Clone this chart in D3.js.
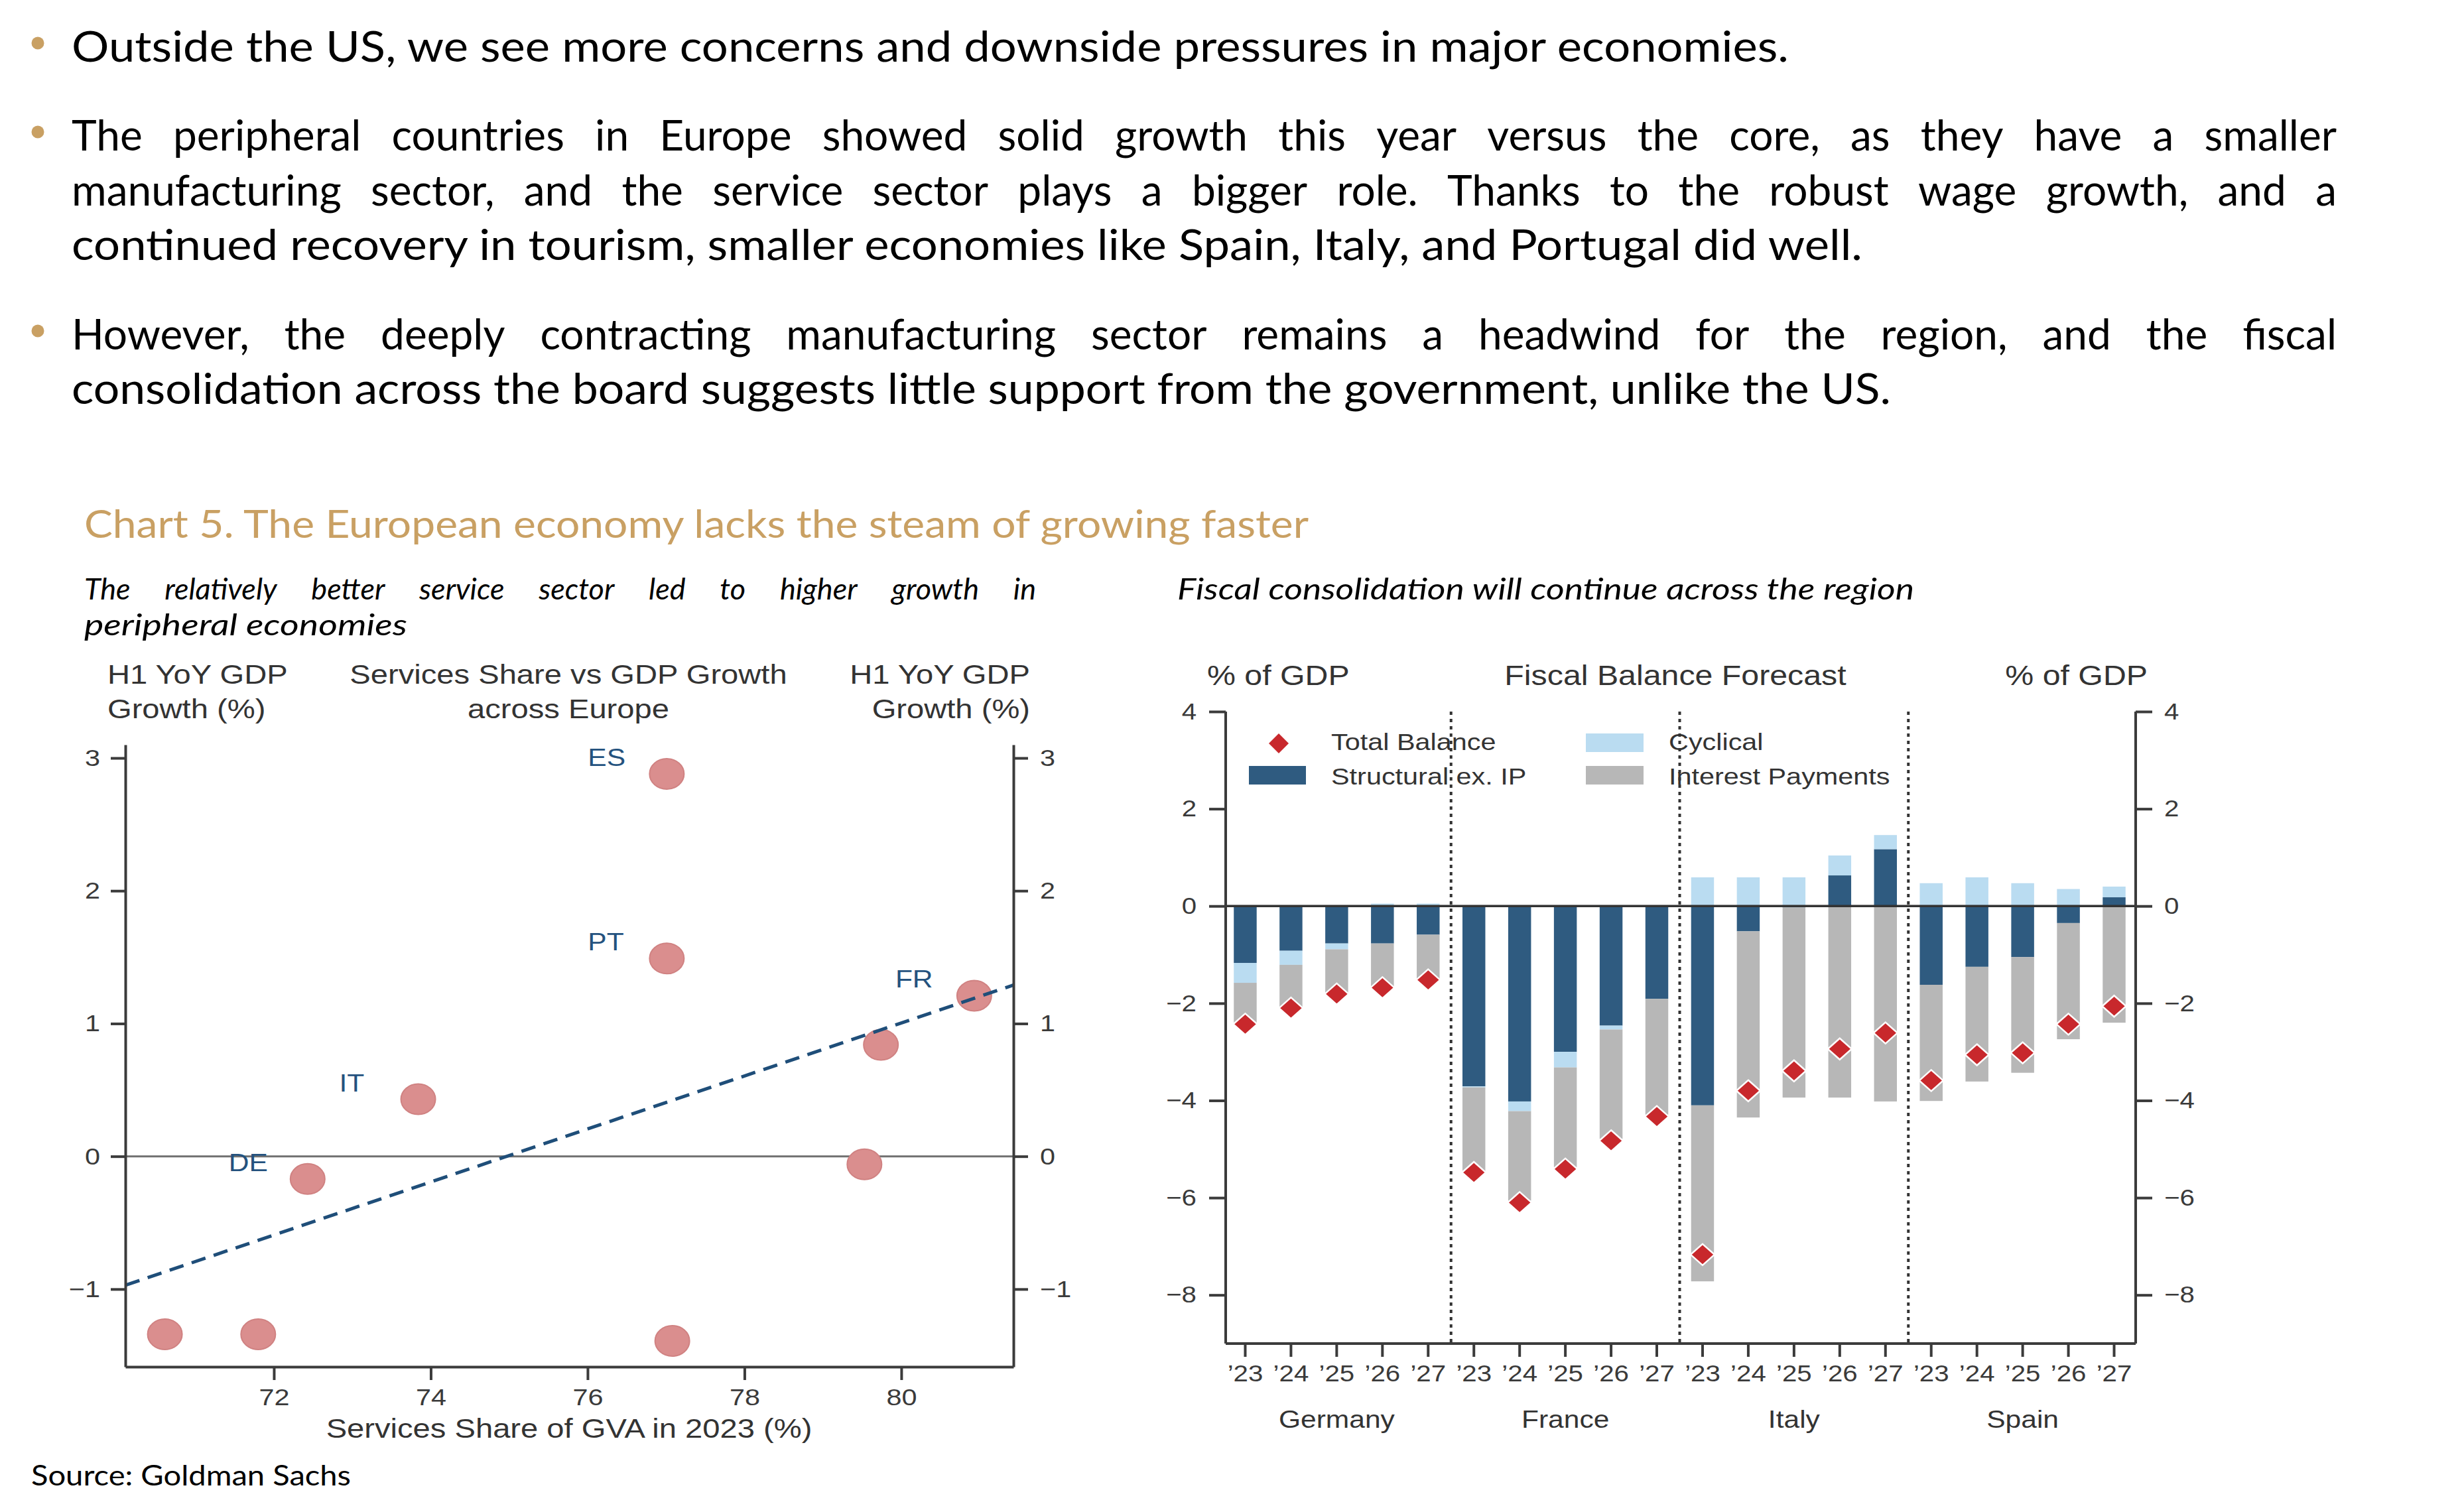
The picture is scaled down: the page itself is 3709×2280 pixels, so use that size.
<!DOCTYPE html>
<html><head><meta charset="utf-8">
<script src="https://cdn.jsdelivr.net/npm/d3@7"></script>
<style>html,body{margin:0;padding:0;background:#fff;} svg{display:block}</style>
</head><body>
<script>
// ---------------- DATA ----------------
const bulletParagraphs = [
  ["Outside the US, we see more concerns and downside pressures in major economies."],
  ["The peripheral countries in Europe showed solid growth this year versus the core, as they have a smaller",
   "manufacturing sector, and the service sector plays a bigger role. Thanks to the robust wage growth, and a",
   "continued recovery in tourism, smaller economies like Spain, Italy, and Portugal did well."],
  ["However, the deeply contracting manufacturing sector remains a headwind for the region, and the fiscal",
   "consolidation across the board suggests little support from the government, unlike the US."]
];
const chartTitle = "Chart 5. The European economy lacks the steam of growing faster";
const leftSubtitle = ["The relatively better service sector led to higher growth in", "peripheral economies"];
const rightSubtitle = "Fiscal consolidation will continue across the region";
const sourceText = "Source: Goldman Sachs";

// Left chart: services share vs GDP growth
const leftHeaderL = ["H1 YoY GDP", "Growth (%)"];
const leftHeaderC = ["Services Share vs GDP Growth", "across Europe"];
const leftHeaderR = ["H1 YoY GDP", "Growth (%)"];
const leftXTitle = "Services Share of GVA in 2023 (%)";
const scatterX = [70.61, 71.80, 72.43, 73.84, 77.01, 77.01, 77.08, 79.53, 79.74, 80.93];
const scatterY = [-1.34, -1.34, -0.17, 0.43, 2.88, 1.49, -1.39, -0.06, 0.84, 1.21];
const scatterLabels = ["", "", "DE", "IT", "ES", "PT", "", "", "", "FR"];
const trendX = [70.11, 81.43];
const trendY = [-0.97, 1.29];
const leftXTicks = [72, 74, 76, 78, 80];
const leftYTicks = [-1, 0, 1, 2, 3];

// Right chart: fiscal balance forecast
const rightHeaderL = "% of GDP";
const rightHeaderC = "Fiscal Balance Forecast";
const rightHeaderR = "% of GDP";
const countries = ["Germany", "France", "Italy", "Spain"];
const years = ["\u201923", "\u201924", "\u201925", "\u201926", "\u201927"];
const structural = [-1.17, -0.92, -0.77, -0.77, -0.59,
                    -3.71, -4.02, -3.00, -2.46, -1.91,
                    -4.10, -0.52, -0.03, 0.63, 1.17,
                    -1.62, -1.25, -1.05, -0.35, 0.18];
const cyclical = [-0.41, -0.29, -0.12, 0.05, 0.05,
                  -0.02, -0.20, -0.32, -0.08, 0.00,
                  0.59, 0.59, 0.59, 0.41, 0.29,
                  0.47, 0.59, 0.47, 0.35, 0.22];
const interest = [-0.84, -0.89, -0.92, -0.94, -0.96,
                  -1.72, -1.84, -2.05, -2.25, -2.38,
                  -3.62, -3.83, -3.91, -3.94, -4.02,
                  -2.39, -2.36, -2.38, -2.39, -2.40];
const totalBalance = [-2.43, -2.10, -1.81, -1.68, -1.52,
                      -5.48, -6.10, -5.41, -4.83, -4.33,
                      -7.17, -3.80, -3.39, -2.94, -2.61,
                      -3.59, -3.06, -3.02, -2.43, -2.06];
const rightYTicks = [-8, -6, -4, -2, 0, 2, 4];
const legendLabels = ["Total Balance", "Structural ex. IP", "Cyclical", "Interest Payments"];

// ---------------- SETUP ----------------
const W = 3709, H = 2280;
const svg = d3.select("body").append("svg").attr("width", W).attr("height", H);
svg.append("rect").attr("width", W).attr("height", H).attr("fill", "#fff");

const BODY_FONT = "Lato, 'Open Sans', sans-serif";
const CHART_FONT = "'Liberation Sans', Arial, sans-serif";
const GOLD = "#C9A063";
const SX = 1.15;           // horizontal stretch of the embedded chart images
const AXC = "#3b3b3b";
const TXT = "#333333";

function measure(str, font, size, style) {
  const t = svg.append("text").attr("font-family", font).attr("font-size", size)
    .attr("font-style", style || "normal").text(str);
  const w = t.node().getComputedTextLength(); t.remove(); return w;
}
function bodyLine(str, x, y, o) {
  const t = svg.append("text").attr("x", x).attr("y", y).attr("font-family", BODY_FONT)
    .attr("font-size", o.size).attr("font-style", o.style || "normal").attr("fill", o.fill || "#000");
  if (o.justify) {
    const words = str.split(" ");
    const ws = words.map(w => measure(w, BODY_FONT, o.size, o.style));
    const gap = (o.justify - d3.sum(ws)) / (words.length - 1);
    let cx = x;
    words.forEach((w, i) => { t.append("tspan").attr("x", cx).text(w); cx += ws[i] + gap; });
  } else {
    t.text(str);
    if (o.target) t.attr("textLength", o.target).attr("lengthAdjust", "spacingAndGlyphs");
  }
  return t;
}
function ctext(g, x, y, str, size, anchor, fill) {
  return g.append("text").attr("transform", `translate(${x},${y}) scale(${SX},1)`)
    .attr("font-family", CHART_FONT).attr("font-size", size)
    .attr("text-anchor", anchor || "start").attr("fill", fill || TXT).text(str);
}

// ---------------- BULLET TEXT ----------------
const bodySize = 64;
const textX = 108, justW = 3523 - 108;
const paraBaselines = [[93], [227, 310, 392], [527, 609]];
const lastLineWidths = [2589, 2700, 2743];
bulletParagraphs.forEach((lines, p) => {
  svg.append("circle").attr("cx", 57).attr("cy", paraBaselines[p][0] - 28).attr("r", 9.5).attr("fill", GOLD);
  lines.forEach((ln, j) => {
    const last = j === lines.length - 1;
    if (last) bodyLine(ln, textX, paraBaselines[p][j], { size: bodySize, target: lastLineWidths[p] });
    else bodyLine(ln, textX, paraBaselines[p][j], { size: bodySize, justify: justW });
  });
});

// ---------------- TITLES ----------------
bodyLine(chartTitle, 127, 811, { size: 58, fill: GOLD, target: 1846 });
bodyLine(leftSubtitle[0], 127, 904, { size: 45, style: "italic", justify: 1562 - 127 });
bodyLine(leftSubtitle[1], 127, 958, { size: 45, style: "italic", target: 487 });
bodyLine(rightSubtitle, 1775, 904, { size: 45, style: "italic", target: 1111 });
bodyLine(sourceText, 47, 2240, { size: 42, target: 482 });

// ---------------- LEFT CHART ----------------
const gL = svg.append("g");
const xL = d3.scaleLinear().domain([70.106, 81.43]).range([189, 1528]);
const yL = d3.scaleLinear().domain([-1.585, 3.10]).range([2061, 1123]);

leftHeaderL.forEach((s, i) => ctext(gL, 162, 1031 + i * 52, s, 41, "start"));
leftHeaderC.forEach((s, i) => ctext(gL, 857, 1031 + i * 52, s, 41, "middle"));
leftHeaderR.forEach((s, i) => ctext(gL, 1553, 1031 + i * 52, s, 41, "end"));

gL.append("line").attr("x1", xL.range()[0]).attr("x2", xL.range()[1])
  .attr("y1", yL(0)).attr("y2", yL(0)).attr("stroke", "#707070").attr("stroke-width", 3);

const pts = scatterX.map((x, i) => ({ x, y: scatterY[i], l: scatterLabels[i] }));
gL.selectAll("ellipse.pt").data(pts).join("ellipse").attr("class", "pt")
  .attr("cx", d => xL(d.x)).attr("cy", d => yL(d.y)).attr("rx", 26).attr("ry", 23)
  .attr("fill", "#DA8E8E").attr("stroke", "#D08282").attr("stroke-width", 2);

gL.append("line").attr("x1", xL(trendX[0])).attr("y1", yL(trendY[0]))
  .attr("x2", xL(trendX[1])).attr("y2", yL(trendY[1]))
  .attr("stroke", "#1F4E79").attr("stroke-width", 5).attr("stroke-dasharray", "22,13");

pts.filter(d => d.l).forEach(d => ctext(gL, xL(d.x) - 119, yL(d.y) - 12, d.l, 37, "start", "#24527E"));

function styleAxis(size) {
  return g => {
    g.select(".domain").attr("stroke", AXC).attr("stroke-width", 4);
    g.selectAll(".tick line").attr("stroke", AXC).attr("stroke-width", 4);
    g.selectAll(".tick text").attr("font-family", CHART_FONT).attr("font-size", size).attr("fill", "#3a3a3a");
  };
}
const fmt = d3.format("d");
gL.append("g").attr("transform", `translate(${xL.range()[0]},0)`)
  .call(d3.axisLeft(yL).tickValues(leftYTicks).tickFormat(fmt).tickSize(22).tickSizeOuter(0))
  .call(styleAxis(36))
  .call(g => g.selectAll(".tick text").attr("x", -38 / SX).attr("transform", `scale(${SX},1)`));
gL.append("g").attr("transform", `translate(${xL.range()[1]},0)`)
  .call(d3.axisRight(yL).tickValues(leftYTicks).tickFormat(fmt).tickSize(22).tickSizeOuter(0))
  .call(styleAxis(36))
  .call(g => g.selectAll(".tick text").attr("x", 40 / SX).attr("transform", `scale(${SX},1)`));
gL.append("g").attr("transform", `translate(0,${yL.range()[0]})`)
  .call(d3.axisBottom(xL).tickValues(leftXTicks).tickFormat(fmt).tickSize(20).tickSizeOuter(0))
  .call(styleAxis(36))
  .call(g => g.selectAll(".tick text").attr("y", 58).attr("dy", null).attr("transform", `scale(${SX},1)`));
ctext(gL, 858, 2168, leftXTitle, 41, "middle");

// ---------------- RIGHT CHART ----------------
const gR = svg.append("g");
const rows = structural.map((s, i) => ({ i, structural: s, cyclical: cyclical[i], interest: interest[i], total: totalBalance[i] }));
const xR = d3.scaleBand().domain(rows.map(d => d.i)).range([1843, 3222]).paddingInner(0.5).paddingOuter(0.25);
const yR = d3.scaleLinear().domain([-9, 4]).range([2026, 1073]);
const axL = 1848, axR = 3220;

ctext(gR, 1820, 1033, rightHeaderL, 42, "start");
ctext(gR, 2526, 1033, rightHeaderC, 42, "middle");
ctext(gR, 3238, 1033, rightHeaderR, 42, "end");

const keys = ["structural", "cyclical", "interest"];
const colors = { structural: "#2F5B80", cyclical: "#BADCF1", interest: "#B7B7B7" };
const series = d3.stack().keys(keys).offset(d3.stackOffsetDiverging)(rows);
gR.selectAll("g.ser").data(series).join("g").attr("class", "ser").attr("fill", s => colors[s.key])
  .selectAll("rect").data(s => s).join("rect")
  .attr("x", d => xR(d.data.i)).attr("width", xR.bandwidth())
  .attr("y", d => yR(Math.max(d[0], d[1]))).attr("height", d => Math.abs(yR(d[0]) - yR(d[1])));

// group dividers
for (let g = 1; g < countries.length; g++) {
  const xd = (xR(g * 5 - 1) + xR.bandwidth() + xR(g * 5)) / 2;
  gR.append("line").attr("x1", xd).attr("x2", xd).attr("y1", yR(4)).attr("y2", yR(-9))
    .attr("stroke", "#333").attr("stroke-width", 4).attr("stroke-dasharray", "5,6");
}

// zero line
gR.append("line").attr("x1", axL).attr("x2", axR).attr("y1", yR(0)).attr("y2", yR(0))
  .attr("stroke", "#333").attr("stroke-width", 3.5);

// diamonds
const dia = "M0,-16L18,0L0,16L-18,0Z";
gR.selectAll("path.tb").data(rows).join("path").attr("class", "tb")
  .attr("transform", d => `translate(${xR(d.i) + xR.bandwidth() / 2},${yR(d.total)})`)
  .attr("d", dia).attr("fill", "#C8282C").attr("stroke", "#fff").attr("stroke-width", 2.5);

// axes
const fmtR = d3.format("d");
gR.append("g").attr("transform", `translate(${axL},0)`)
  .call(d3.axisLeft(yR).tickValues(rightYTicks).tickFormat(fmtR).tickSize(25).tickSizeOuter(0))
  .call(styleAxis(35))
  .call(g => g.select(".domain").attr("d", `M0,${yR(-9)}V${yR(4)}`))
  .call(g => g.selectAll(".tick text").attr("x", -44 / SX).attr("transform", `scale(${SX},1)`));
gR.append("g").attr("transform", `translate(${axR},0)`)
  .call(d3.axisRight(yR).tickValues(rightYTicks).tickFormat(fmtR).tickSize(25).tickSizeOuter(0))
  .call(styleAxis(35))
  .call(g => g.select(".domain").attr("d", `M0,${yR(-9)}V${yR(4)}`))
  .call(g => g.selectAll(".tick text").attr("x", 43 / SX).attr("transform", `scale(${SX},1)`));
gR.append("g").attr("transform", `translate(0,${yR(-9)})`)
  .call(d3.axisBottom(xR).tickFormat(i => years[i % 5]).tickSize(20).tickSizeOuter(0))
  .call(styleAxis(35))
  .call(g => g.select(".domain").attr("d", `M${axL},0H${axR}`))
  .call(g => g.selectAll(".tick text").attr("y", 57).attr("dy", null).attr("transform", `scale(${SX},1)`));

countries.forEach((c, g) => {
  const cx = (xR(g * 5) + xR(g * 5 + 4) + xR.bandwidth()) / 2;
  ctext(gR, cx, 2153, c, 37, "middle");
});

// legend
const lg = gR.append("g");
lg.append("path").attr("transform", "translate(1928,1121)").attr("d", "M0,-15L15,0L0,15L-15,0Z").attr("fill", "#C8282C");
lg.append("rect").attr("x", 1883).attr("y", 1155).attr("width", 86).attr("height", 28).attr("fill", colors.structural);
lg.append("rect").attr("x", 2391).attr("y", 1106).attr("width", 87).attr("height", 28).attr("fill", colors.cyclical);
lg.append("rect").attr("x", 2391).attr("y", 1155).attr("width", 87).attr("height", 28).attr("fill", colors.interest);
ctext(lg, 2007, 1131, legendLabels[0], 36);
ctext(lg, 2007, 1183, legendLabels[1], 36);
ctext(lg, 2516, 1131, legendLabels[2], 36);
ctext(lg, 2516, 1183, legendLabels[3], 36);
</script>
</body></html>
